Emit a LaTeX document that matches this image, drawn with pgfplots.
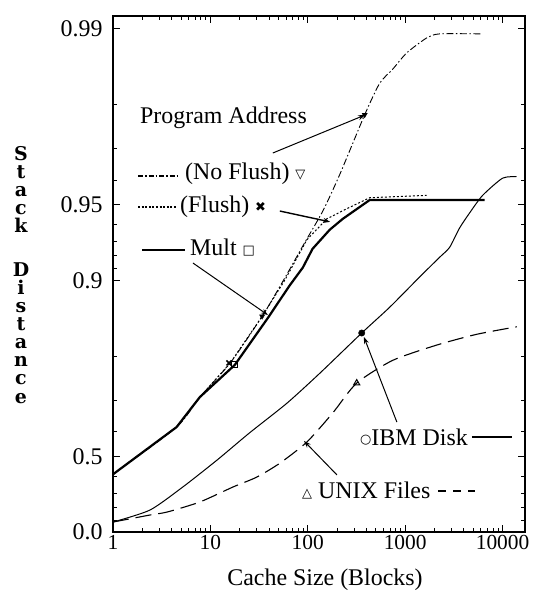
\documentclass[border=0pt]{standalone}
\usepackage{pgfplots}
\pgfplotsset{compat=1.18}
\usepackage{fontspec}
\setmainfont{Liberation Serif}
\newfontfamily\symfont{DejaVu Sans}
\newfontfamily\labfont{DejaVu Serif}
\usetikzlibrary{arrows.meta}
\newcommand\sym[2]{\raisebox{#1}{\symfont\fontsize{13}{13}\selectfont #2}}

\begin{document}
\begin{tikzpicture}
\begin{axis}[
  at={(0,0)}, anchor=south west,
  scale only axis, width=412bp, height=516bp,
  xmode=log, xmin=1, xmax=17000,
  % the y axis is scaled as -ln(1-p); data are given as p
  y filter/.expression={-ln(1-y)},
  ymin=0, ymax=4.72,
  xtick={1,10,100,1000,10000}, xticklabels={1,10,100,1000,10000},
  ytick={0,0.6931,2.3026,2.9957,4.6052}, yticklabels={0.0,0.5,0.9,0.95,0.99},
  minor ytick={0.1054,0.2231,0.3567,0.5108,0.9163,1.2040,1.6094,2.4079,2.5257,2.6593,2.8134,3.2189,3.5066,3.9120},
  tick align=inside,
  major tick length=7bp, minor tick length=4bp,
  axis line style={line width=2bp},
  every tick/.style={black, line width=1bp},
  xticklabel style={font=\fontsize{21.5}{24}\selectfont},
  yticklabel style={font=\fontsize{24}{26}\selectfont, xshift=-7bp},
  clip=false,
]
% Program Address, No Flush (dash-dot)
\addplot[black, line width=0.9bp, smooth, tension=0.4, dash pattern=on 7bp off 2.5bp on 1.5bp off 2.5bp] coordinates {
(1,0.41) (4.5,0.617) (7.8,0.709) (16,0.787) (34,0.861) (58,0.902) (89,0.927)
(143,0.947) (213,0.962) (384,0.978) (547,0.9835) (745,0.9855) (1036,0.9875)
(1660,0.9891) (2260,0.9895) (6240,0.9895)};
% Program Address, Flush (dotted)
\addplot[black, line width=1bp, dash pattern=on 2bp off 2bp] coordinates {
(1,0.41) (4.5,0.617) (7.8,0.709) (16,0.787) (34,0.861) (58,0.900) (98,0.931)
(157,0.943) (251,0.948) (432,0.953) (1660,0.954)};
% Mult (thick solid)
\addplot[black, line width=2.2bp] coordinates {
(1,0.41) (4.5,0.617) (7.8,0.709) (17.8,0.783) (39,0.859) (65,0.895) (89,0.911)
(112,0.925) (168,0.937) (229,0.943) (432,0.952) (6540,0.952)};
% IBM Disk (thin solid)
\addplot[black, line width=1bp, smooth, tension=0.4] coordinates {
(1,0.087) (2.4,0.182) (5.2,0.337) (11.7,0.482) (25,0.595) (61,0.692) (133,0.766)
(358,0.838) (693,0.872) (1409,0.903) (2260,0.919) (2860,0.926) (3620,0.938)
(4590,0.946) (6240,0.954) (10000,0.9607) (13900,0.9612)};
% UNIX Files (long dashes)
\addplot[black, line width=1.1bp, smooth, tension=0.4, dash pattern=on 16bp off 7bp] coordinates {
(1,0.087) (2.4,0.144) (3.6,0.167) (7.8,0.240) (17,0.337) (30,0.395) (52,0.468)
(98,0.561) (180,0.663) (318,0.744) (745,0.792) (2100,0.819) (5400,0.836) (14000,0.847)};
% markers
\addplot[only marks, black, mark=triangle*, mark size=3bp, mark options={rotate=180}] coordinates {(384,0.978) (34,0.861)};
\addplot[only marks, black, mark=x, mark size=3.5bp, mark options={line width=1.5bp}] coordinates {(15.5,0.787)};
\addplot[only marks, black, mark=square, mark size=3bp, mark options={line width=1bp}] coordinates {(17.8,0.783)};
\addplot[only marks, black, mark=*, mark size=3.2bp] coordinates {(358,0.838)};
\addplot[only marks, black, mark=triangle, mark size=3.5bp, mark options={line width=1bp}] coordinates {(318,0.744)};

% annotations
\node[anchor=base west, font=\fontsize{24}{26}\selectfont, inner sep=0pt] at (rel axis cs:0.0655,0.7926) {Program Address};
\draw[line width=1bp, -{Stealth[length=7bp,width=5bp]}] (rel axis cs:0.388,0.7345) -- (rel axis cs:0.6117,0.8081);

\draw[line width=1.2bp, dash pattern=on 5bp off 2bp on 1.5bp off 2bp] (rel axis cs:0.0607,0.690) -- (rel axis cs:0.1626,0.690);
\node[anchor=base west, font=\fontsize{24}{26}\selectfont, inner sep=0pt] at (rel axis cs:0.1748,0.6822) {(No Flush) \sym{1bp}{▽}};

\draw[line width=1.2bp, dash pattern=on 2bp off 1.6bp] (rel axis cs:0.0607,0.630) -- (rel axis cs:0.1530,0.630);
\node[anchor=base west, font=\fontsize{24}{26}\selectfont, inner sep=0pt] at (rel axis cs:0.1626,0.620) {(Flush) \sym{1bp}{✖}};
\draw[line width=1.4bp, -{Stealth[length=7bp,width=5bp]}] (rel axis cs:0.405,0.622) -- (rel axis cs:0.527,0.601);

\draw[line width=2.4bp] (rel axis cs:0.0704,0.5465) -- (rel axis cs:0.1748,0.5465);
\node[anchor=base west, font=\fontsize{24}{26}\selectfont, inner sep=0pt] at (rel axis cs:0.187,0.535) {Mult \sym{1bp}{□}};
\draw[line width=1bp, -{Stealth[length=7bp,width=5bp]}] (rel axis cs:0.194,0.5213) -- (rel axis cs:0.376,0.4205);

\node[anchor=base west, font=\fontsize{24}{26}\selectfont, inner sep=0pt] at (rel axis cs:0.5995,0.1686) {\sym{2bp}{○}IBM Disk};
\draw[line width=1.2bp] (rel axis cs:0.871,0.184) -- (rel axis cs:0.968,0.184);
\draw[line width=1bp, -{Stealth[length=7bp,width=5bp]}] (rel axis cs:0.689,0.213) -- (rel axis cs:0.609,0.378);

\node[anchor=base west, font=\fontsize{24}{26}\selectfont, inner sep=0pt] at (rel axis cs:0.4587,0.064) {\sym{1bp}{△} UNIX Files};
\draw[line width=1.2bp, dash pattern=on 8bp off 7bp] (rel axis cs:0.789,0.0795) -- (rel axis cs:0.879,0.0795);
\draw[line width=1bp, -{Stealth[length=7bp,width=5bp]}] (rel axis cs:0.5437,0.1105) -- (rel axis cs:0.4636,0.1764);

% y label, letters stacked
\node[inner sep=0pt] at (rel axis cs:-0.2233,0.492)
  {\labfont\fontsize{19}{18.2}\selectfont\bfseries\renewcommand\arraystretch{1}%
   \begin{tabular}{@{}c@{}}\smash{S}\\\smash{t}\\\smash{a}\\\smash{c}\\\smash{k}\\[25bp]%
   \smash{D}\\\smash{i}\\\smash{s}\\\smash{t}\\\smash{a}\\\smash{n}\\\smash{c}\\\smash{e}\end{tabular}};
\end{axis}
\node[font=\fontsize{24}{26}\selectfont] at (212bp,-48bp) {Cache Size (Blocks)};
\pgfresetboundingbox
\path[use as bounding box] (-113bp,-67bp) rectangle (420bp,532bp);
\end{tikzpicture}
\end{document}
